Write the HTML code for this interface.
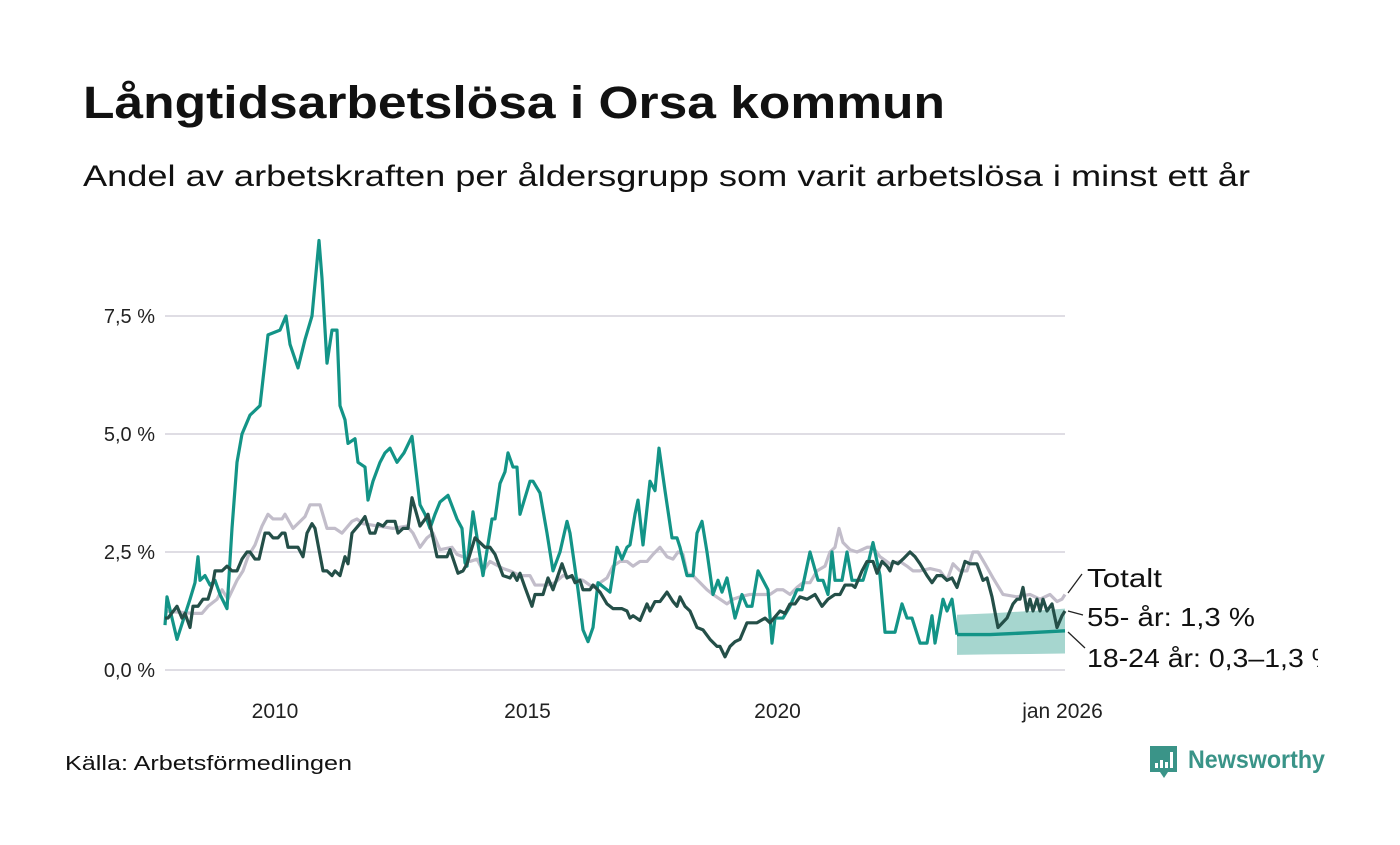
<!DOCTYPE html>
<html><head><meta charset="utf-8"><style>
html,body{margin:0;padding:0;background:#fff;}
body{width:1400px;height:840px;overflow:hidden;font-family:"Liberation Sans","DejaVu Sans",sans-serif;}
</style></head><body>
<svg id="chart" width="1400" height="840" xmlns="http://www.w3.org/2000/svg" font-family="'Liberation Sans','DejaVu Sans',sans-serif">
<text x="83" y="118" font-size="45" font-weight="bold" fill="#111" textLength="862" lengthAdjust="spacingAndGlyphs">Långtidsarbetslösa i Orsa kommun</text>
<text x="83" y="186" font-size="30" fill="#111" textLength="1167" lengthAdjust="spacingAndGlyphs">Andel av arbetskraften per åldersgrupp som varit arbetslösa i minst ett år</text>
<g id="grid"></g><g id="band"></g><g id="lines"></g><g id="labels"></g>
<text x="65" y="770" font-size="20" fill="#111" textLength="287" lengthAdjust="spacingAndGlyphs">Källa: Arbetsförmedlingen</text>
<g>
<path d="M1150 746 h27 v26 h-9 l-4 6 l-4 -6 h-10 z" fill="#3a9488"/>
<rect x="1155" y="763" width="3" height="5" fill="#fff"/><rect x="1160" y="760" width="3" height="8" fill="#fff"/><rect x="1165" y="762" width="3" height="6" fill="#fff"/><rect x="1170" y="752" width="3" height="16" fill="#fff"/>
<text x="1188" y="768" font-size="25" font-weight="bold" fill="#3a9488" textLength="137" lengthAdjust="spacingAndGlyphs">Newsworthy</text>
</g>
</svg>
<script>
const yTicks=[0,2.5,5,7.5];
const yTickLabels=["0,0 %","2,5 %","5,0 %","7,5 %"];
const xTicks=[2010.2,2015.25,2020.25,2025.95];
const xTickLabels=["2010","2015","2020","jan 2026"];
const youngDates=[2008.00,2008.04,2008.24,2008.50,2008.60,2008.66,2008.70,2008.80,2008.90,2009.00,2009.10,2009.24,2009.34,2009.44,2009.54,2009.70,2009.90,2010.06,2010.30,2010.42,2010.50,2010.66,2010.80,2010.94,2011.08,2011.14,2011.24,2011.34,2011.44,2011.50,2011.60,2011.66,2011.80,2011.86,2012.00,2012.06,2012.16,2012.30,2012.40,2012.50,2012.64,2012.78,2012.94,2013.10,2013.20,2013.30,2013.40,2013.50,2013.66,2013.84,2013.94,2014.00,2014.04,2014.16,2014.36,2014.54,2014.60,2014.70,2014.80,2014.86,2014.96,2015.04,2015.10,2015.30,2015.36,2015.50,2015.64,2015.76,2015.90,2016.04,2016.10,2016.26,2016.36,2016.46,2016.56,2016.66,2016.84,2016.90,2017.04,2017.14,2017.24,2017.30,2017.40,2017.46,2017.56,2017.70,2017.80,2017.88,2018.00,2018.14,2018.24,2018.30,2018.44,2018.56,2018.64,2018.74,2018.84,2018.96,2019.06,2019.14,2019.24,2019.40,2019.54,2019.64,2019.74,2019.86,2020.06,2020.14,2020.20,2020.36,2020.50,2020.64,2020.74,2020.90,2021.06,2021.16,2021.26,2021.34,2021.40,2021.54,2021.64,2021.74,2021.96,2022.06,2022.16,2022.30,2022.40,2022.60,2022.74,2022.84,2022.94,2023.10,2023.24,2023.34,2023.40,2023.56,2023.64,2023.74,2023.84];
const youngValues=[0.95,1.55,0.65,1.5,1.85,2.4,1.9,2.0,1.8,1.9,1.6,1.3,3.0,4.4,5.0,5.4,5.6,7.1,7.2,7.5,6.9,6.4,7.0,7.5,9.1,8.3,6.5,7.2,7.2,5.6,5.3,4.8,4.9,4.4,4.3,3.6,4.0,4.4,4.6,4.7,4.4,4.6,4.95,3.5,3.3,3.0,3.3,3.56,3.7,3.2,3.0,2.27,2.2,3.35,2.0,3.2,3.2,3.95,4.2,4.6,4.3,4.3,3.3,4.0,4.0,3.75,2.9,2.1,2.5,3.15,2.9,1.7,0.85,0.6,0.9,1.85,1.7,1.65,2.6,2.35,2.6,2.65,3.3,3.6,2.65,4.0,3.8,4.7,3.8,2.8,2.8,2.6,2.0,2.0,2.9,3.15,2.5,1.6,1.9,1.65,1.95,1.1,1.6,1.35,1.35,2.1,1.7,0.57,1.1,1.1,1.35,1.7,1.7,2.5,1.9,1.9,1.6,2.5,1.9,1.9,2.5,1.9,1.9,2.25,2.7,2.0,0.8,0.8,1.4,1.1,1.1,0.57,0.57,1.15,0.57,1.5,1.25,1.5,0.75];
const fcDates=[2023.84,2024.5,2025.3,2026.0];
const fcMid=[0.75,0.75,0.79,0.83];
const fcLow=[0.32,0.33,0.34,0.35];
const fcHigh=[1.17,1.2,1.25,1.3];
const oldDates=[2008.00,2008.06,2008.24,2008.34,2008.40,2008.50,2008.56,2008.66,2008.76,2008.86,2008.96,2009.00,2009.14,2009.24,2009.34,2009.44,2009.54,2009.64,2009.70,2009.80,2009.88,2010.00,2010.08,2010.16,2010.26,2010.34,2010.40,2010.46,2010.60,2010.66,2010.76,2010.84,2010.94,2011.00,2011.16,2011.24,2011.34,2011.40,2011.50,2011.60,2011.66,2011.74,2011.90,2012.00,2012.10,2012.20,2012.26,2012.36,2012.44,2012.60,2012.66,2012.76,2012.86,2012.94,2013.10,2013.24,2013.26,2013.44,2013.64,2013.70,2013.86,2013.96,2014.04,2014.20,2014.30,2014.40,2014.50,2014.60,2014.76,2014.90,2014.96,2015.04,2015.10,2015.20,2015.34,2015.40,2015.56,2015.66,2015.76,2015.94,2016.04,2016.14,2016.20,2016.30,2016.36,2016.50,2016.56,2016.70,2016.84,2016.96,2017.14,2017.24,2017.30,2017.36,2017.50,2017.64,2017.70,2017.80,2017.90,2018.04,2018.16,2018.24,2018.30,2018.40,2018.50,2018.64,2018.76,2018.90,2019.04,2019.10,2019.20,2019.30,2019.40,2019.50,2019.64,2019.84,2020.00,2020.10,2020.30,2020.40,2020.50,2020.60,2020.70,2020.84,2021.00,2021.14,2021.26,2021.40,2021.50,2021.60,2021.74,2021.80,2021.94,2022.04,2022.16,2022.24,2022.34,2022.44,2022.50,2022.56,2022.66,2022.76,2022.90,2023.00,2023.10,2023.24,2023.34,2023.44,2023.54,2023.64,2023.74,2023.84,2024.00,2024.10,2024.24,2024.36,2024.44,2024.54,2024.66,2024.84,2024.96,2025.04,2025.10,2025.16,2025.24,2025.30,2025.36,2025.44,2025.50,2025.56,2025.64,2025.74,2025.84,2025.94,2026.00];
const oldValues=[1.1,1.1,1.35,1.1,1.2,0.9,1.35,1.35,1.5,1.5,1.85,2.1,2.1,2.2,2.1,2.1,2.35,2.5,2.5,2.35,2.35,2.9,2.9,2.8,2.8,2.9,2.9,2.6,2.6,2.6,2.4,2.9,3.1,3.0,2.1,2.1,2.0,2.1,2.0,2.4,2.25,2.9,3.1,3.25,2.9,2.9,3.1,3.05,3.15,3.15,2.9,3.0,3.0,3.65,3.05,3.25,3.3,2.4,2.4,2.55,2.05,2.1,2.25,2.8,2.7,2.6,2.6,2.45,2.0,1.95,2.05,1.9,2.05,1.75,1.35,1.6,1.6,1.95,1.7,2.25,1.95,2.0,1.85,1.9,1.7,1.7,1.8,1.65,1.4,1.3,1.3,1.25,1.1,1.15,1.05,1.4,1.25,1.45,1.45,1.65,1.45,1.35,1.55,1.35,1.25,0.9,0.85,0.65,0.5,0.5,0.28,0.5,0.6,0.65,1.0,1.0,1.1,1.0,1.25,1.2,1.4,1.4,1.55,1.5,1.6,1.35,1.5,1.6,1.6,1.8,1.8,1.75,2.1,2.3,2.3,2.05,2.3,2.2,2.1,2.3,2.25,2.35,2.5,2.4,2.25,2.0,1.85,2.0,2.0,1.9,1.95,1.75,2.3,2.25,2.25,1.9,1.95,1.55,0.9,1.1,1.4,1.5,1.5,1.75,1.25,1.5,1.25,1.5,1.25,1.5,1.25,1.4,0.9,1.15,1.25];
const totalDates=[2008.00,2008.56,2008.74,2008.86,2009.04,2009.14,2009.26,2009.44,2009.56,2009.66,2009.80,2009.94,2010.06,2010.16,2010.34,2010.40,2010.56,2010.80,2010.90,2011.10,2011.24,2011.40,2011.54,2011.74,2011.84,2011.96,2012.56,2012.84,2012.96,2013.10,2013.24,2013.36,2013.50,2013.74,2013.84,2013.96,2014.10,2014.24,2014.36,2014.50,2014.76,2014.90,2015.10,2015.30,2015.40,2015.64,2015.80,2015.96,2016.16,2016.36,2016.56,2016.70,2016.84,2016.96,2017.10,2017.24,2017.36,2017.50,2017.64,2017.76,2017.90,2018.04,2018.16,2018.26,2018.36,2018.44,2018.56,2018.70,2018.84,2018.96,2019.10,2019.24,2019.36,2019.50,2019.70,2019.90,2020.10,2020.24,2020.36,2020.50,2020.64,2020.76,2020.90,2021.04,2021.20,2021.30,2021.40,2021.48,2021.56,2021.70,2021.84,2022.04,2022.16,2022.30,2022.50,2022.70,2022.84,2022.96,2023.10,2023.30,2023.50,2023.64,2023.76,2023.90,2024.04,2024.16,2024.26,2024.40,2024.56,2024.76,2025.04,2025.30,2025.50,2025.70,2025.84,2025.94,2026.00];
const totalValues=[1.25,1.2,1.2,1.35,1.5,1.7,1.5,1.9,2.1,2.4,2.65,3.05,3.3,3.2,3.2,3.3,3.0,3.25,3.5,3.5,3.0,3.0,2.9,3.15,3.2,3.1,3.0,3.05,2.9,2.6,2.8,2.9,2.55,2.6,2.45,2.4,2.3,2.35,2.1,2.3,2.15,2.1,2.0,2.0,1.8,1.8,1.85,2.0,1.95,1.9,1.75,1.85,1.95,2.2,2.3,2.3,2.2,2.3,2.3,2.45,2.6,2.4,2.35,2.5,2.45,2.05,2.0,1.85,1.7,1.6,1.5,1.4,1.5,1.55,1.6,1.6,1.6,1.7,1.7,1.6,1.75,1.85,1.85,2.1,2.2,2.5,2.6,3.0,2.7,2.55,2.5,2.6,2.6,2.4,2.25,2.3,2.2,2.1,2.1,2.15,2.1,1.9,2.25,2.1,2.1,2.5,2.5,2.25,1.95,1.6,1.55,1.6,1.5,1.6,1.45,1.5,1.6];

const X0=165,X1=1065,D0=2008,D1=2026,Y0=670,PPU=47.2;
const xs=d=>X0+(d-D0)/(D1-D0)*(X1-X0);
const ys=v=>Y0-v*PPU;
const NS="http://www.w3.org/2000/svg";
function mk(tag,attrs,parent){const e=document.createElementNS(NS,tag);for(const k in attrs)e.setAttribute(k,attrs[k]);parent.appendChild(e);return e;}
const grid=document.getElementById('grid');
yTicks.forEach((t,i)=>{
  const l=mk('line',{x1:X0,x2:X1,y1:ys(t),y2:ys(t),stroke:'#dfdde4','stroke-width':2},grid);
  
  
  const tx=mk('text',{x:155,y:ys(t)+7,'text-anchor':'end','font-size':20,fill:'#222'},grid);
  tx.textContent=yTickLabels[i];
  
  
});
xTicks.forEach((t,i)=>{
  const tx=mk('text',{x:xs(t),y:718,'text-anchor':'middle','font-size':21,fill:'#222'},grid);
  tx.textContent=xTickLabels[i];
  
  
});
const band=document.getElementById('band');
let bp=fcDates.map((d,i)=>xs(d)+','+ys(fcHigh[i])).concat(fcDates.map((d,i)=>xs(d)+','+ys(fcLow[i])).reverse());
const bandEl=mk('polygon',{points:bp.join(' '),fill:'#a6d6cf'},band);


const lines=document.getElementById('lines');
function line(ds,vs,color,name,w){
  const e=mk('polyline',{points:ds.map((d,i)=>xs(d)+','+ys(vs[i])).join(' '),fill:'none',stroke:color,'stroke-width':w||3.2,'stroke-linejoin':'round'},lines);
  
  
}
line(totalDates,totalValues,'#c2bdca','line-totalt');
line(youngDates,youngValues,'#139487','line-18-24');
line(fcDates,fcMid,'#139487','line-18-24-forecast',3.4);
line(oldDates,oldValues,'#244f48','line-55');
const lab=document.getElementById('labels');
const cp=mk('clipPath',{id:'lclip'},lab);mk('rect',{x:0,y:0,width:1318,height:840},cp);
function label(txt,ty,x1,y1,x2,y2,name,len){
  const c=mk('line',{x1:x1,y1:y1,x2:x2,y2:y2,stroke:'#222','stroke-width':1.3},lab);
  
  
  const t=mk('text',{x:1087,y:ty,'font-size':26,fill:'#111','clip-path':'url(#lclip)',textLength:len,lengthAdjust:'spacingAndGlyphs'},lab);
  t.textContent=txt;
  
  
}
label('Totalt',587,1068,593,1082,574,'label-totalt',75);
label('55- år: 1,3 %',626,1068,611,1083,615,'label-55',168);
label('18-24 år: 0,3–1,3 %',667,1068,632,1085,648,'label-18-24',250);
</script>
</body></html>
